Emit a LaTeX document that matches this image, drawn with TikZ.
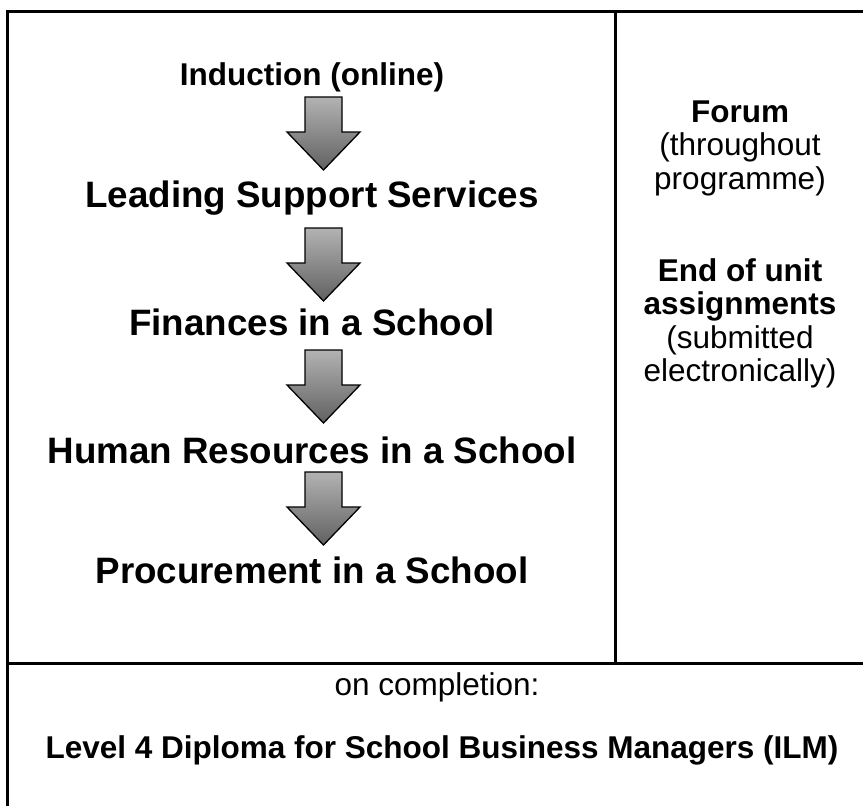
\documentclass[tikz,border=0pt]{standalone}
\usepackage{fontspec}
\setmainfont{Liberation Sans}
\begin{document}
\begin{tikzpicture}[x=1pt,y=-1pt,
  rule/.style={line width=3pt,black},
  bigtitle/.style={anchor=base,font=\fontsize{36.75}{40}\selectfont\bfseries,inner sep=0pt},
  midtitle/.style={anchor=base,font=\fontsize{31.5}{34}\selectfont\bfseries,inner sep=0pt},
  plaintext/.style={anchor=base,font=\fontsize{31.5}{34}\selectfont,inner sep=0pt},
  downarrow/.pic={
    \shade[top color=black!30,bottom color=black!62,draw=black,line width=1.3pt,line join=miter]
      (-18.5,0) -- (18.5,0) -- (18.5,35) -- (36.5,35) -- (0,73) -- (-36.5,35) -- (-18.5,35) -- cycle;
  }]
\useasboundingbox (0,0) rectangle (863,806);
% table rules
\draw[rule] (7.7,806) -- (7.7,11) -- (863,11);
\draw[rule] (615.5,11) -- (615.5,663);
\draw[rule] (7.7,663) -- (863,663);
% left column
\node[midtitle] (ind) at (312,85) {Induction (online)};
\pic at (323.5,97) {downarrow};
\node[bigtitle] (lss) at (312,207) {Leading Support Services};
\pic at (323.5,228) {downarrow};
\node[bigtitle] (fin) at (312,335) {Finances in a School};
\pic at (323.5,350) {downarrow};
\node[bigtitle] (hr) at (312,463) {Human Resources in a School};
\pic at (323.5,472) {downarrow};
\node[bigtitle] (proc) at (312,583) {Procurement in a School};
% right column
\node[midtitle] (forum) at (740,122) {Forum};
\node[plaintext] (thr) at (740,155.5) {(throughout};
\node[plaintext] (prog) at (740,189) {programme)};
\node[midtitle] (end) at (740,281) {End of unit};
\node[midtitle] (asg) at (740,314.5) {assignments};
\node[plaintext] (sub) at (740,348) {(submitted};
\node[plaintext] (elec) at (740,381.5) {electronically)};
% bottom row
\node[plaintext] (onc) at (437,695) {on completion:};
\node[midtitle] (lvl) at (442,758) {Level 4 Diploma for School Business Managers (ILM)};
\end{tikzpicture}
\end{document}
